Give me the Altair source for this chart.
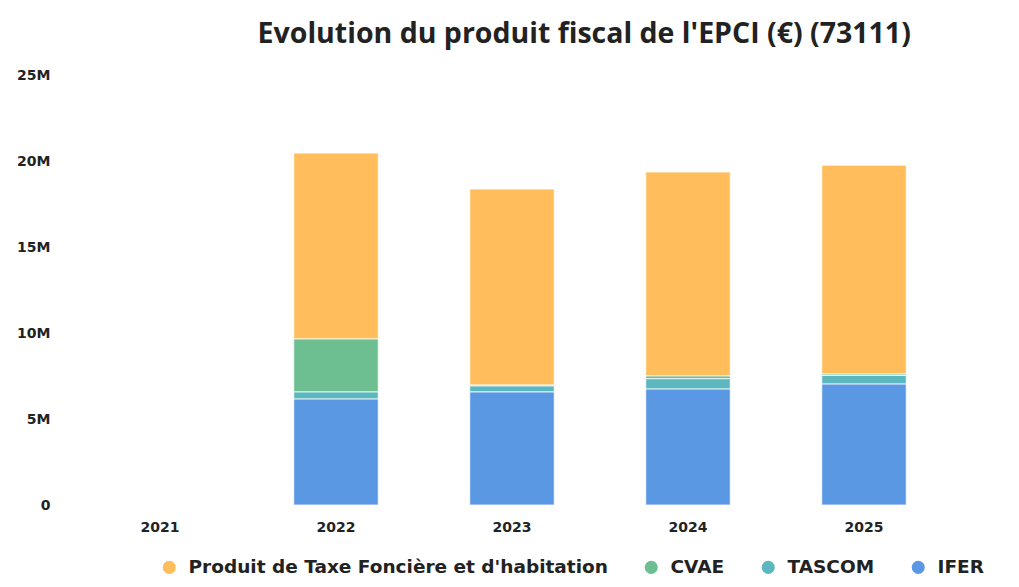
import altair as alt
import pandas as pd

annees = ["2021", "2022", "2023", "2024", "2025"]
series = ["Produit de Taxe Foncière et d'habitation", "CVAE", "TASCOM", "IFER"]
couleurs = ["#ffbd5c", "#6dbf91", "#5bb8bf", "#5b98e3"]
# valeurs en millions d'euros (None = pas de donnée)
produit = [None, 10.81, 11.40, 11.86, 12.15]
cvae = [None, 3.08, 0.05, 0.16, 0.08]
tascom = [None, 0.41, 0.35, 0.60, 0.50]
ifer = [None, 6.16, 6.57, 6.74, 7.03]
ordre_pile = {"IFER": 1, "TASCOM": 2, "CVAE": 3, series[0]: 4}

rows = []
for nom, vals in zip(series, [produit, cvae, tascom, ifer]):
    for a, v in zip(annees, vals):
        if v is not None:
            rows.append({"annee": a, "serie": nom, "valeur": v * 1e6, "ordre": ordre_pile[nom]})
df = pd.DataFrame(rows)

font = "Open Sans"
font2 = "DejaVu Sans"
chart = alt.Chart(df).mark_bar(stroke="white", strokeWidth=0.8).encode(
    x=alt.X("annee:N", scale=alt.Scale(domain=annees, paddingInner=0.52, paddingOuter=0.26),
            axis=alt.Axis(title=None, labelAngle=0, domain=False, ticks=False, labelPadding=15,
                          labelFont=font2, labelFontSize=14, labelFontWeight="bold", labelColor="#222")),
    y=alt.Y("valeur:Q", stack="zero", scale=alt.Scale(domain=[0, 25e6], nice=False),
            axis=alt.Axis(title=None, values=[0, 5e6, 10e6, 15e6, 20e6, 25e6], grid=False, domain=False,
                          ticks=False, labelPadding=22, labelFont=font2, labelFontSize=14,
                          labelFontWeight="bold", labelColor="#222",
                          labelExpr="datum.value == 0 ? '0' : (datum.value / 1e6) + 'M'")),
    color=alt.Color("serie:N", scale=alt.Scale(domain=series, range=couleurs),
                    legend=alt.Legend(title=None, orient="none", direction="horizontal",
                                      legendX=88, legendY=483, symbolType="circle", symbolSize=170,
                                      symbolStrokeWidth=0, labelFont=font2, labelFontSize=18.5,
                                      labelFontWeight="bold", labelColor="#222", columnPadding=34,
                                      labelOffset=10, labelLimit=600)),
    order=alt.Order("ordre:Q", sort="ascending"),
).properties(
    width=880, height=430,
    title=alt.TitleParams("Evolution du produit fiscal de l'EPCI (€) (73111)", anchor="start", dx=241,
                          offset=20, font=font, fontSize=28.5, fontWeight="bold", color="#222"),
    autosize=alt.AutoSizeParams(type="none"),
    padding={"left": 64, "top": 67, "right": 59, "bottom": 78},
).configure_view(stroke=None)

chart.save("out.html", embed_options={"renderer": "svg", "actions": False})
